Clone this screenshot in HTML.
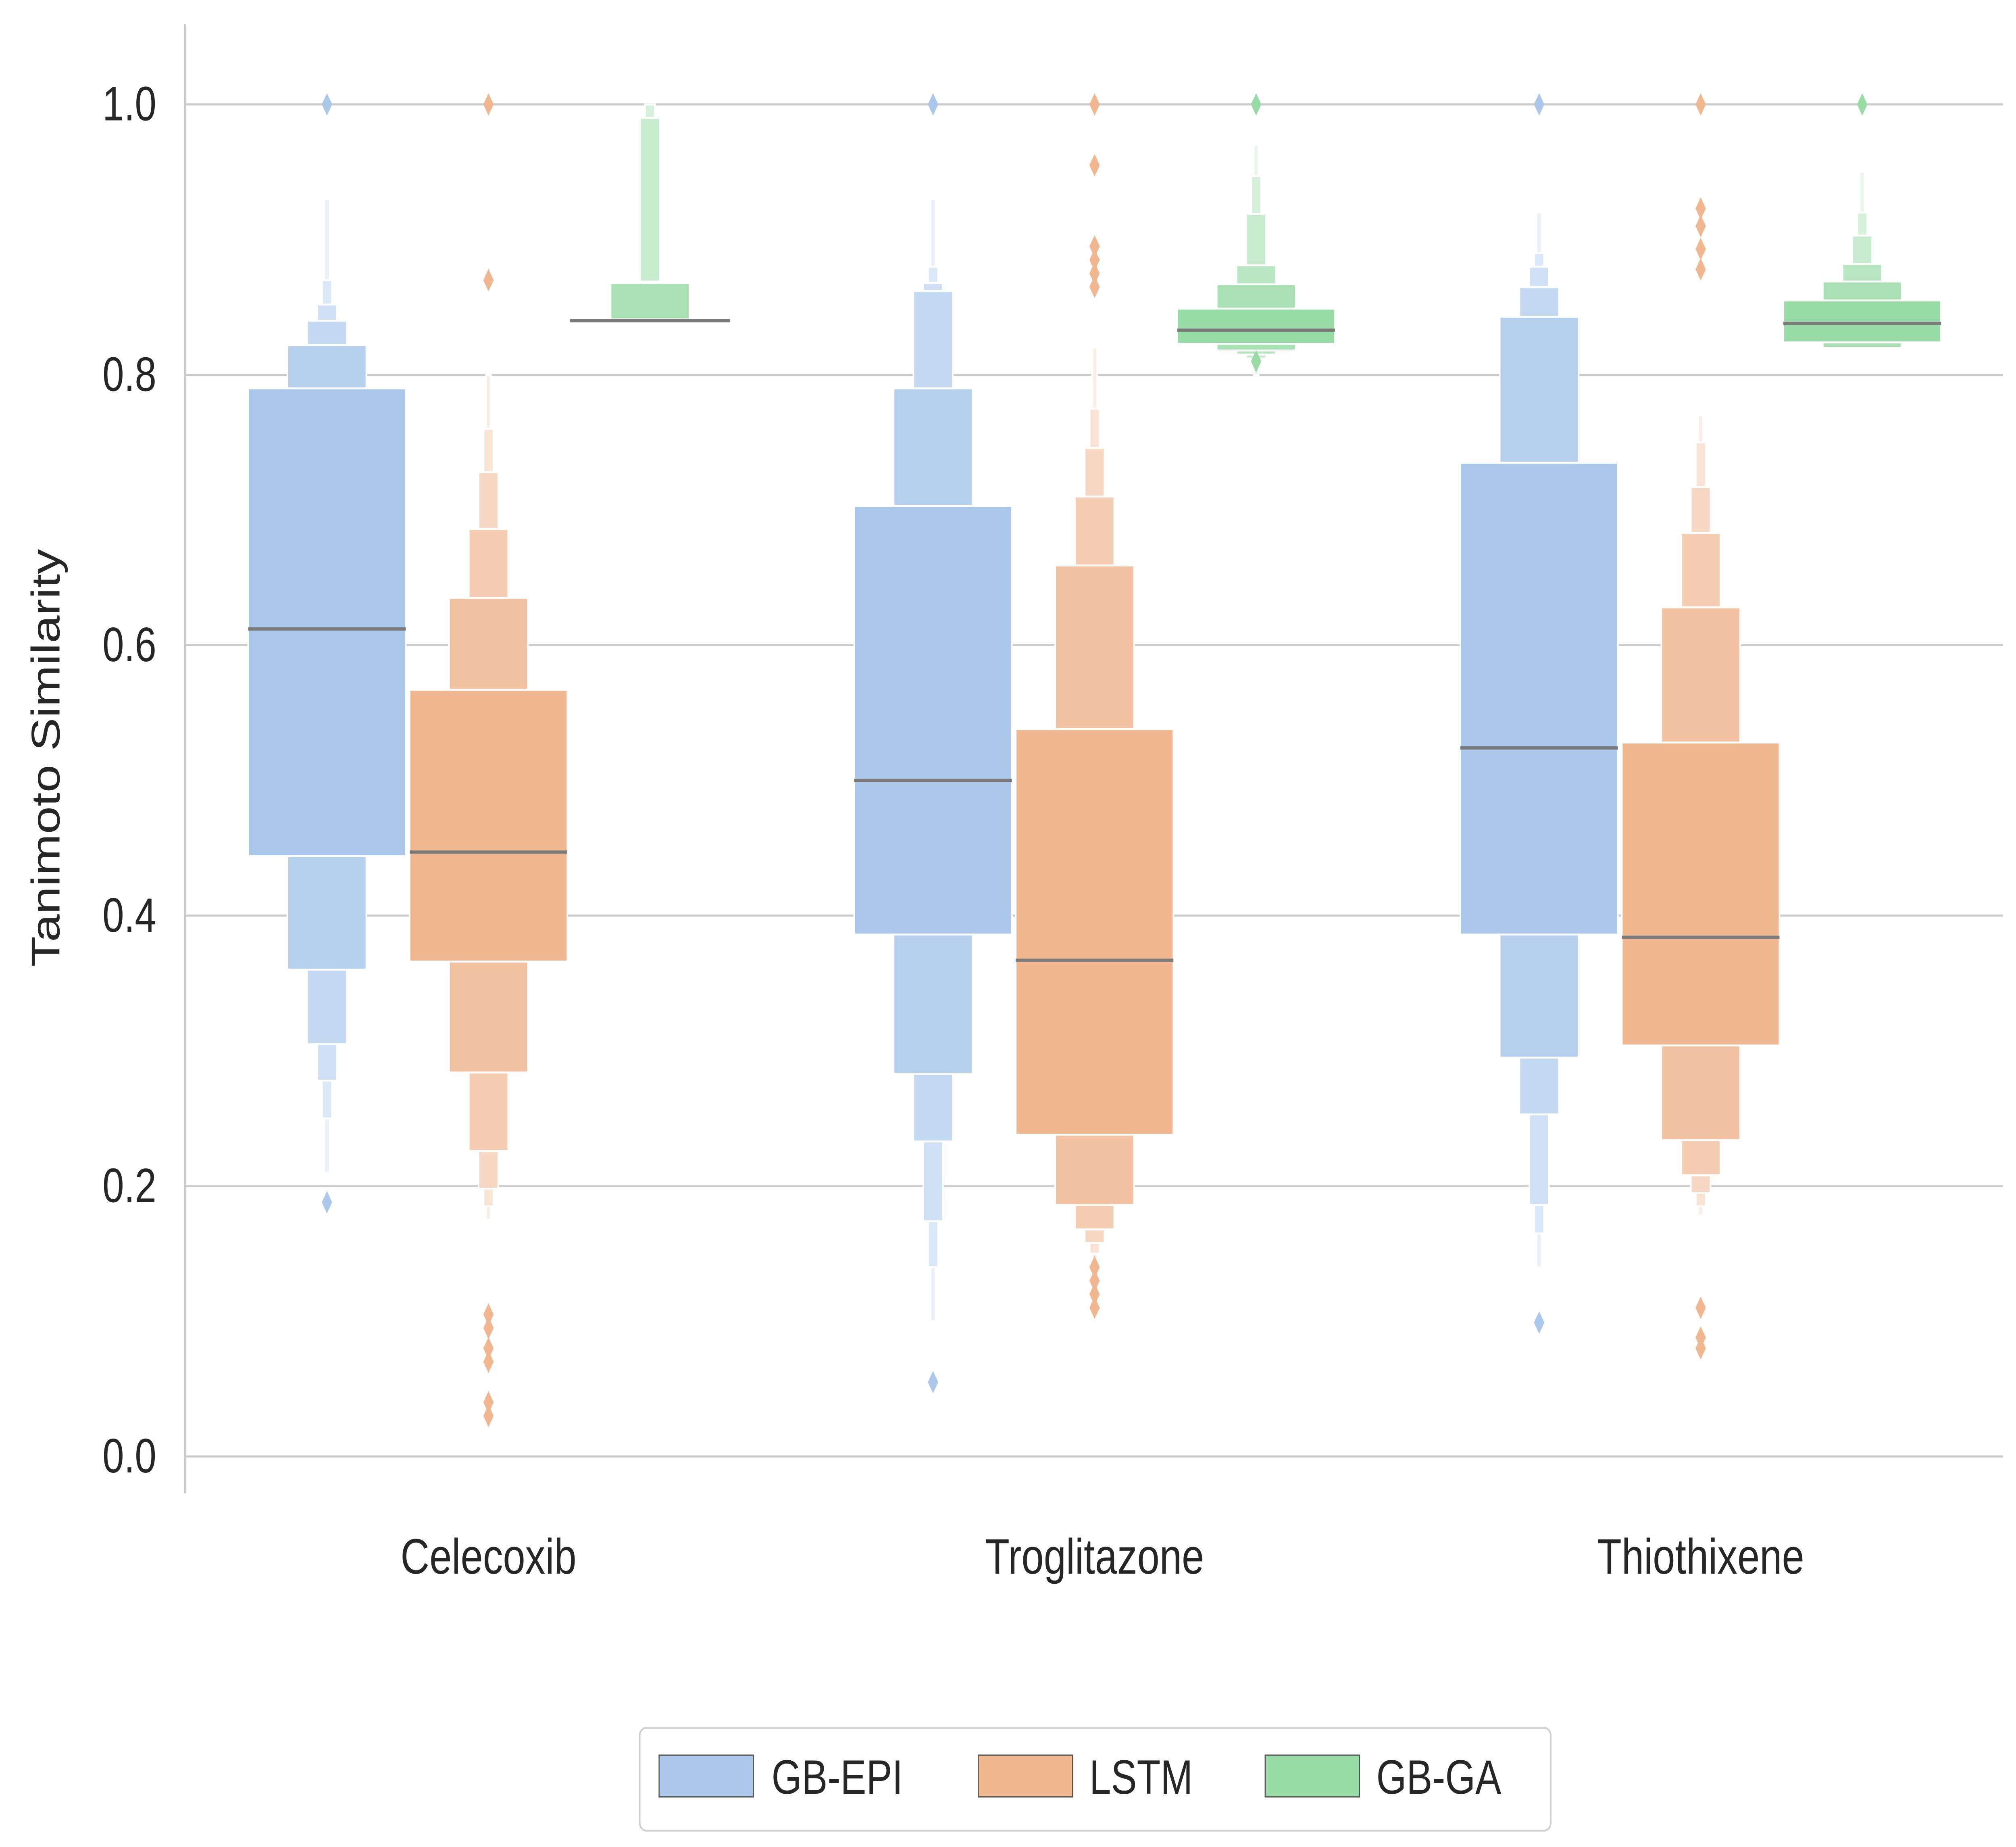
<!DOCTYPE html>
<html><head><meta charset="utf-8"><style>
html,body{margin:0;padding:0;background:#fff;width:100vw;height:100vh;overflow:hidden;}
svg{display:block;width:100vw;height:100vh;}
text{font-family:"Liberation Sans","DejaVu Sans",sans-serif;fill:#262626;}
</style></head><body>
<svg id="chart" viewBox="0 0 1560 1150.2" preserveAspectRatio="none" xmlns="http://www.w3.org/2000/svg">
<g id="grid"></g>
<line x1="143" y1="15" x2="143" y2="930" stroke="#c8c8c8" stroke-width="1.5"/>
<g id="yticks"></g>
<text transform="translate(46,472) rotate(-90)" text-anchor="middle" font-size="31">Tanimoto Similarity</text>
<g id="xticks"></g>
<g id="boxes"></g>
<g>
<rect x="495" y="1076" width="705" height="64" rx="5" fill="#fff" stroke="#d0d0d0" stroke-width="1.2"/>
<g><rect x="510" y="1093" width="73" height="26" fill="#abc8eb" stroke="#555" stroke-width="0.8"/><text x="597" y="1117" font-size="30">GB-EPI</text></g>
<g><rect x="757" y="1093" width="73" height="26" fill="#f0b791" stroke="#555" stroke-width="0.8"/><text x="843" y="1117" font-size="30">LSTM</text></g>
<g><rect x="979" y="1093" width="73" height="26" fill="#98dba6" stroke="#555" stroke-width="0.8"/><text x="1065" y="1117" font-size="30">GB-GA</text></g>
</g>
</svg>
<script>
const categories = ["Celecoxib","Troglitazone","Thiothixene"];
const seriesNames = ["GB-EPI","LSTM","GB-GA"];
const yTicks = [0.0,0.2,0.4,0.6,0.8,1.0];
const yTickLabels = ["0.0","0.2","0.4","0.6","0.8","1.0"];
const gbEpiLevels = [
 [[0.444,0.790],[0.360,0.822],[0.305,0.840],[0.278,0.852],[0.25,0.870],[0.21,0.93]],
 [[0.386,0.703],[0.283,0.790],[0.233,0.862],[0.174,0.868],[0.14,0.880],[0.10,0.93]],
 [[0.386,0.735],[0.295,0.843],[0.253,0.865],[0.186,0.880],[0.165,0.890],[0.14,0.92]]
];
const lstmLevels = [
 [[0.366,0.567],[0.284,0.635],[0.226,0.686],[0.198,0.728],[0.185,0.760],[0.175,0.80]],
 [[0.238,0.538],[0.186,0.659],[0.168,0.710],[0.158,0.746],[0.15,0.775],[0.14,0.82]],
 [[0.304,0.528],[0.234,0.628],[0.208,0.683],[0.195,0.717],[0.185,0.750],[0.178,0.77]]
];
const gbGaLevels = [
 [[0.840,0.841],[0.840,0.868],[0.868,0.869],[0.868,0.99],[0.99,1.0]],
 [[0.823,0.849],[0.818,0.867],[0.815,0.881],[0.812,0.919],[0.810,0.947],[0.80,0.97]],
 [[0.824,0.855],[0.820,0.869],[0.820,0.882],[0.820,0.903],[0.820,0.920],[0.82,0.95]]
];
const gbEpiMedians = [0.612,0.500,0.524];
const lstmMedians = [0.447,0.367,0.384];
const gbGaMedians = [0.840,0.833,0.838];
const gbEpiOutliers = [[1.0,0.188],[1.0,0.055],[1.0,0.099]];
const lstmOutliers = [[1.0,0.870,0.105,0.095,0.08,0.07,0.04,0.03],[1.0,0.955,0.895,0.885,0.875,0.865,0.14,0.13,0.12,0.11],[1.0,0.923,0.91,0.893,0.878,0.11,0.088,0.08]];
const gbGaOutliers = [[],[1.0,0.81],[1.0]];

const NS="http://www.w3.org/2000/svg";
const y = v => 907 - v*842;
const xCat = i => 378 + i*469;
const hueOff = [-125,0,125];
const baseW = 122;
const palettes = [
 ["#abc8eb","#b7d0ee","#c3d8f1","#cfe0f4","#dbe8f7","#e8f0fa"],
 ["#f0b791","#f2c2a2","#f4cdb3","#f6d8c4","#f8e3d5","#fbeee6"],
 ["#98dba6","#a8e0b3","#b8e6c1","#c8ebcf","#d8f1dd","#e8f6eb"]
];
const allLevels=[gbEpiLevels,lstmLevels,gbGaLevels];
const allMed=[gbEpiMedians,lstmMedians,gbGaMedians];
const allOut=[gbEpiOutliers,lstmOutliers,gbGaOutliers];
const mk=(t,a,p)=>{const e=document.createElementNS(NS,t);for(const k in a)e.setAttribute(k,a[k]);p.appendChild(e);return e;};

const grid=document.getElementById('grid');
yTicks.forEach((v,i)=>{
 const l=mk('line',{x1:143,x2:1550,y1:y(v),y2:y(v),stroke:'#cccccc','stroke-width':1.3},grid);
 
 
 const t=mk('text',{x:121,y:y(v)+10,'text-anchor':'end','font-size':30},document.getElementById('yticks'));
 t.textContent=yTickLabels[i];
 
 
});
categories.forEach((c,i)=>{
 const t=mk('text',{x:xCat(i),y:980,'text-anchor':'middle','font-size':31},document.getElementById('xticks'));
 t.textContent=c;
 
 
});
const boxes=document.getElementById('boxes');
seriesNames.forEach((s,si)=>{
 categories.forEach((c,ci)=>{
  const g=mk('g',{},boxes);
  
  
  const cx=xCat(ci)+hueOff[si];
  const lv=allLevels[si][ci];
  for(let k=lv.length-1;k>=0;k--){
   const w=baseW/Math.pow(2,k);
   const lo=lv[k][0],hi=lv[k][1];
   const r=mk('rect',{x:cx-w/2,y:y(hi),width:w,height:Math.max(0,y(lo)-y(hi)),fill:palettes[si][Math.min(k,5)],stroke:'#fff','stroke-width':1.2},g);
   
   
  }
  const mw=si===2&&ci===0?124:baseW;
  const m=mk('line',{x1:cx-mw/2,x2:cx+mw/2,y1:y(allMed[si][ci]),y2:y(allMed[si][ci]),stroke:'#7a7a7a','stroke-width':2},g);
  
  
  allOut[si][ci].forEach(v=>{
   const yy=y(v);
   const d=mk('polygon',{points:`${cx},${yy-7} ${cx+4},${yy} ${cx},${yy+7} ${cx-4},${yy}`,fill:palettes[si][0]},g);
   
   
  });
 });
});
</script>
</body></html>
